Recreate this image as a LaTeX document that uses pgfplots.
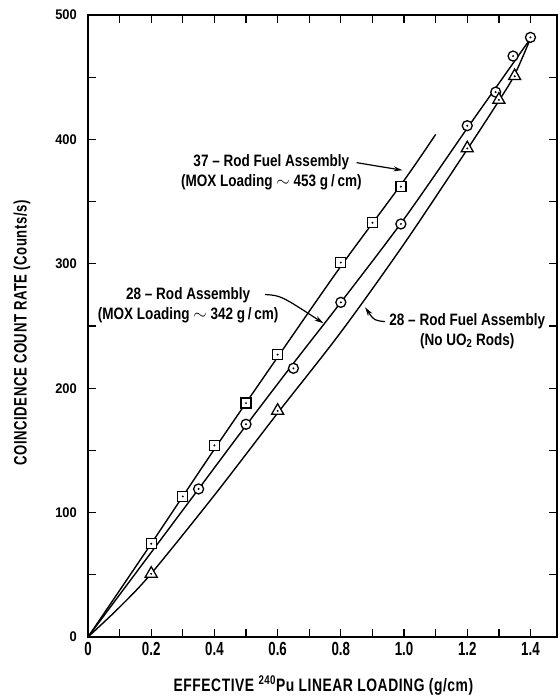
\documentclass[border=0pt]{standalone}
\usepackage{fontspec}
\setmainfont{Liberation Sans}[FakeStretch=0.95]
\newfontfamily\xtickfont{Liberation Sans}[FakeStretch=0.7]
\newfontfamily\ytickfont{Liberation Sans}[FakeStretch=0.92]
\newfontfamily\xlabfont{Liberation Sans}[FakeStretch=0.77,LetterSpace=3]
\newfontfamily\ylabfont{Liberation Sans}[FakeStretch=0.73,LetterSpace=3]
\newfontfamily\annfont{Liberation Sans}[FakeStretch=0.82]
\usepackage{pgfplots}
\pgfplotsset{compat=1.18}
\usetikzlibrary{arrows.meta}

\pgfdeclareplotmark{sqdot}{%
  \pgfsetfillcolor{white}%
  \pgfpathrectangle{\pgfqpoint{-\pgfplotmarksize}{-\pgfplotmarksize}}{\pgfqpoint{2\pgfplotmarksize}{2\pgfplotmarksize}}%
  \pgfusepathqfillstroke
  \pgfsetfillcolor{black}%
  \pgfpathcircle{\pgfpointorigin}{1.1pt}\pgfusepathqfill}
\pgfdeclareplotmark{cidot}{%
  \pgfsetfillcolor{white}%
  \pgfpathcircle{\pgfpointorigin}{\pgfplotmarksize}%
  \pgfusepathqfillstroke
  \pgfsetfillcolor{black}%
  \pgfpathcircle{\pgfpointorigin}{1.1pt}\pgfusepathqfill}
\pgfdeclareplotmark{tridot}{%
  \pgfsetfillcolor{white}%
  \pgfpathmoveto{\pgfqpoint{0pt}{1.15\pgfplotmarksize}}%
  \pgfpathlineto{\pgfqpoint{-1.0\pgfplotmarksize}{-0.6\pgfplotmarksize}}%
  \pgfpathlineto{\pgfqpoint{1.0\pgfplotmarksize}{-0.6\pgfplotmarksize}}%
  \pgfpathclose
  \pgfusepathqfillstroke
  \pgfsetfillcolor{black}%
  \pgfpathcircle{\pgfqpoint{0pt}{-0.05\pgfplotmarksize}}{1.1pt}\pgfusepathqfill}

% fitted curves
\pgfplotstableread{
x y
0 0
0.2 75
0.4 151
0.6 225
0.8 298
1.0 367
1.1 404
}\lineA
\pgfplotstableread{
x y
0 0
0.2 68
0.35 119
0.5 170
0.65 220
0.8 269
1.0 336
1.2 409
1.3 445
1.4 481
}\lineB
\pgfplotstableread{
x y
0 0
0.1 24
0.2 51
0.4 114
0.6 180
0.8 245
1.0 316
1.2 392
1.3 431
1.35 452
1.4 481
}\lineC
% measured points
\pgfplotstableread{
x y
0.2 75
0.3 113
0.4 154
0.5 188
0.6 227
0.8 301
0.9 333
0.99 362
}\squares
\pgfplotstableread{
x y
0.35 119
0.5 171
0.65 216
0.8 269
0.99 332
1.2 411
1.29 438
1.345 467
1.4 482
}\circles
\pgfplotstableread{
x y
0.2 51
0.6 182
1.2 393
1.3 432
1.35 451
}\triangles

\begin{document}
\begin{tikzpicture}
\begin{axis}[
  name=ax,
  scale only axis,
  width=469pt, height=622pt,
  xmin=0, xmax=1.484, ymin=0, ymax=500,
  axis line style={line width=1.6pt},
  tick align=inside, tick pos=both,
  xtick={0,0.2,0.4,0.6,0.8,1.0,1.2,1.4},
  xticklabels={0,0.2,0.4,0.6,0.8,1.0,1.2,1.4},
  minor xtick={0.1,0.3,0.5,0.7,0.9,1.1,1.3},
  ytick={0,100,200,300,400,500},
  yticklabels={0,100,200,300,400,500},
  minor ytick={50,150,250,350,450},
  major tick length=8pt, minor tick length=8pt,
  every tick/.style={black, line width=1.3pt},
  xticklabel style={font=\xtickfont\bfseries\fontsize{19}{19}\selectfont, inner sep=1pt, yshift=-4pt},
  yticklabel style={font=\ytickfont\bfseries\fontsize{14}{14}\selectfont, inner sep=1pt, xshift=-10pt},
  xlabel={EFFECTIVE \textsuperscript{240}Pu LINEAR LOADING (g/cm)},
  ylabel={COINCIDENCE COUNT RATE (Counts/s)},
  every axis x label/.style={at={(axis description cs:0.502,-0.078)}, anchor=center, font=\xlabfont\bfseries\fontsize{18}{18}\selectfont},
  every axis y label/.style={at={(axis description cs:-0.141,0.489)}, rotate=90, anchor=center, font=\ylabfont\bfseries\fontsize{18}{18}\selectfont},
  clip=false,
]
\addplot[black, line width=1.4pt, smooth] table {\lineA};
\addplot[black, line width=1.4pt, smooth] table {\lineB};
\addplot[black, line width=1.4pt, smooth] table {\lineC};
\addplot[only marks, mark=sqdot, mark size=5pt, mark options={line width=1.3pt}] table {\squares};
\addplot[only marks, mark=cidot, mark size=5pt, mark options={line width=1.3pt}] table {\circles};
\addplot[only marks, mark=tridot, mark size=6pt, mark options={line width=1.3pt}] table {\triangles};

\node[font=\annfont\bfseries\fontsize{16.5}{20}\selectfont, align=center] at (axis cs:0.58,373.4)
  {37 \textendash{} Rod Fuel Assembly\\(MOX Loading $\sim$ 453 g\,/\,cm)};
\node[font=\annfont\bfseries\fontsize{16.5}{20}\selectfont, align=center] at (axis cs:0.317,267)
  {28 \textendash{} Rod Assembly\\(MOX Loading $\sim$ 342 g\,/\,cm)};
\node[font=\annfont\bfseries\fontsize{16.5}{20}\selectfont, align=center] at (axis cs:1.2,246)
  {28 \textendash{} Rod Fuel Assembly\\(No UO\textsubscript{2} Rods)};

\draw[line width=1.2pt, -{Stealth[length=9pt,width=5pt]}] (axis cs:0.85,381.3) -- (axis cs:0.995,375.2);
\draw[line width=1.2pt, -{Stealth[length=9pt,width=5pt]}] (axis cs:0.56,275.3) .. controls (axis cs:0.61,274.5) .. (axis cs:0.745,252.2);
\draw[line width=1.2pt, -{Stealth[length=9pt,width=5pt]}] (axis cs:0.94,253.5) .. controls (axis cs:0.905,254.5) .. (axis cs:0.877,265);
\end{axis}
\pgfresetboundingbox
\path ([shift={(-88pt,-59pt)}]ax.south west) rectangle ([shift={(2pt,15pt)}]ax.north east);
\end{tikzpicture}
\end{document}
